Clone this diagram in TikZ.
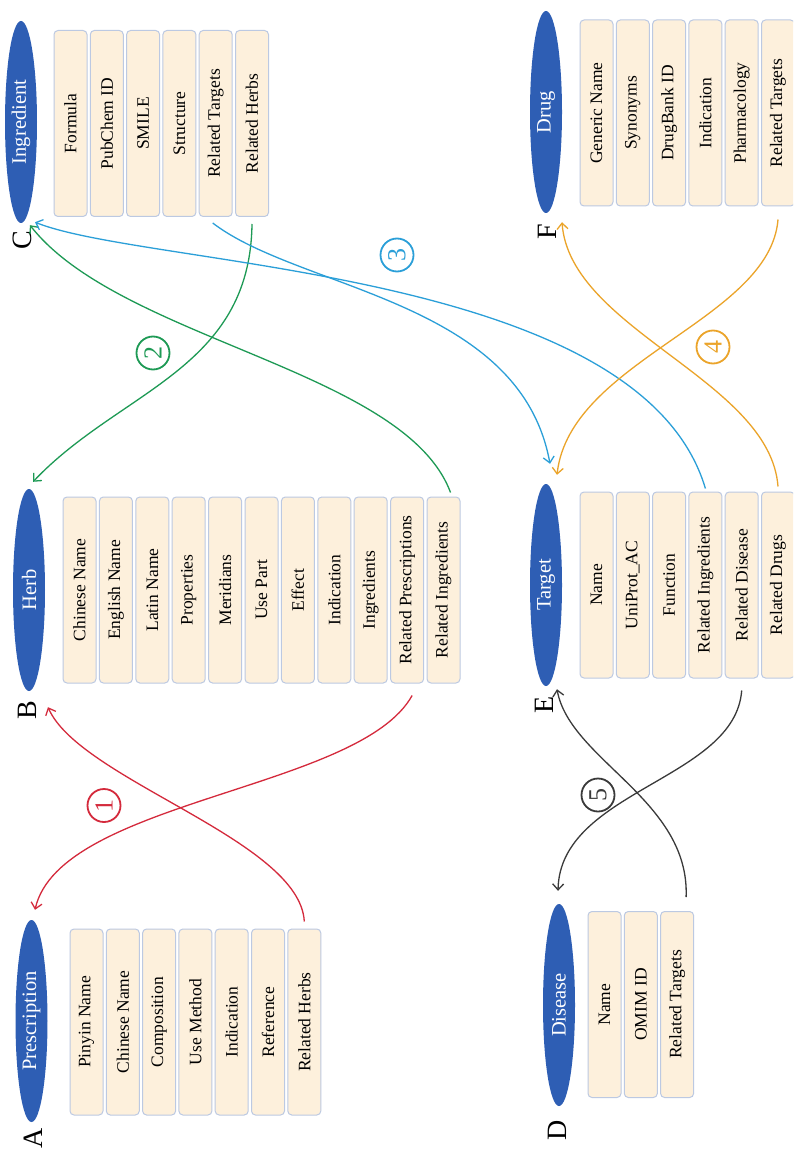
\documentclass[tikz,border=0pt]{standalone}
\usepackage{fontspec}
\setmainfont{Liberation Serif}
\usetikzlibrary{shapes.geometric,arrows.meta,calc}
\definecolor{ellblue}{HTML}{2E5EB4}
\definecolor{boxfill}{HTML}{FDF0DC}
\definecolor{boxline}{HTML}{BCC9E2}
\definecolor{cred}{HTML}{D42A3C}
\definecolor{cgreen}{HTML}{1E9A55}
\definecolor{cblue}{HTML}{2B9FD8}
\definecolor{corange}{HTML}{EBA42A}
\definecolor{cblack}{HTML}{3A3A3A}
\begin{document}
\begin{tikzpicture}[x=1pt,y=-1pt,
  field/.style={draw=boxline, fill=boxfill, rounded corners=4pt, line width=1pt,
    minimum width=33pt, minimum height=186pt, inner sep=0pt, text=black,
    font=\fontsize{17.5}{17.5}\selectfont},
  entity/.style={ellipse, fill=ellblue, minimum width=32pt, minimum height=202pt,
    inner sep=0pt, text=white, font=\fontsize{20.5}{20.5}\selectfont},
  letter/.style={inner sep=0pt, font=\fontsize{28}{28}\selectfont},
  conn/.style={line width=1.3pt, -{Straight Barb[length=6pt,width=11pt]}},
  num/.style={circle, line width=1.8pt, minimum size=33pt, inner sep=0pt,
    font=\fontsize{26}{26}\selectfont}
]
\clip (0,0) rectangle (793,1150);
\fill[white] (0,0) rectangle (793,1150);

% A Prescription
\node[entity] (pe) at (31.5,1021) {\rotatebox{90}{Prescription}};
\node[letter] (la) at (33,1138) {\rotatebox{90}{A}};
\foreach \t [count=\i] in {Pinyin Name,Chinese Name,Composition,Use Method,Indication,Reference,Related Herbs}
  \node[field] (pa\i) at ({86.5+(\i-1)*36.3},1022) {\rotatebox{90}{\t}};

% B Herb
\node[entity] (he) at (29,590) {\rotatebox{90}{Herb}};
\node[letter] (lb) at (27,710) {\rotatebox{90}{B}};
\foreach \t [count=\i] in {Chinese Name,English Name,Latin Name,Properties,Meridians,Use Part,Effect,Indication,Ingredients,Related Prescriptions,Related Ingredients}
  \node[field] (hb\i) at ({79.5+(\i-1)*36.4},590) {\rotatebox{90}{\t}};

% C Ingredient
\node[entity] (ie) at (21,122) {\rotatebox{90}{Ingredient}};
\node[letter] (lc) at (22,240) {\rotatebox{90}{C}};
\foreach \t [count=\i] in {Formula,PubChem ID,SMILE,Structure,Related Targets,Related Herbs}
  \node[field] (ib\i) at ({70.5+(\i-1)*36.3},123.5) {\rotatebox{90}{\t}};

% D Disease
\node[entity] (de) at (559,1005) {\rotatebox{90}{Disease}};
\node[letter] (ld) at (557,1130) {\rotatebox{90}{D}};
\foreach \t [count=\i] in {Name,OMIM ID,Related Targets}
  \node[field] (db\i) at ({604.5+(\i-1)*36.3},1004.5) {\rotatebox{90}{\t}};

% E Target
\node[entity] (te) at (546,585) {\rotatebox{90}{Target}};
\node[letter] (le) at (544,705) {\rotatebox{90}{E}};
\foreach \t [count=\i] in {Name,UniProt\_AC,Function,Related Ingredients,Related Disease,Related Drugs}
  \node[field] (eb\i) at ({596.5+(\i-1)*36.3},585) {\rotatebox{90}{\t}};

% F Drug
\node[entity] (fe) at (546,112) {\rotatebox{90}{Drug}};
\node[letter] (lf) at (547,232) {\rotatebox{90}{F}};
\foreach \t [count=\i] in {Generic Name,Synonyms,DrugBank ID,Indication,Pharmacology,Related Targets}
  \node[field] (fb\i) at ({596.5+(\i-1)*36.3},113) {\rotatebox{90}{\t}};

% 1 red
\draw[conn, cred] ([yshift=7pt]pa7.north) .. controls (300,840) and (80,780) .. ([xshift=19pt,yshift=-16pt]he.south);
\draw[conn, cred] ([xshift=5pt,yshift=-12pt]hb10.south) .. controls (360,790) and (60,800) .. ([xshift=3.5pt,yshift=10pt]pe.north);
\node[num, draw=cred, text=cred] (n1) at (104,805.5) {\rotatebox{90}{1}};

% 2 green
\draw[conn, cgreen] ([yshift=-7pt]ib6.south) .. controls (250,370) and (120,390) .. ([xshift=4pt,yshift=7pt]he.north);
\draw[conn, cgreen] ([xshift=7pt,yshift=4pt]hb11.north) .. controls (405,370) and (120,340) .. ([xshift=9pt,yshift=-2pt]ie.south);
\node[num, draw=cgreen, text=cgreen] (n2) at (153,353) {\rotatebox{90}{2}};

% 3 blue
\draw[conn, cblue] ([xshift=-3pt,yshift=-6pt]ib5.south) .. controls (300,290) and (520,300) .. ([xshift=4pt,yshift=20pt]te.north);
\draw[conn, cblue] ([yshift=3pt]eb4.north) .. controls (640,268) and (150,268) .. ([xshift=14pt,yshift=1pt]ie.south);
\node[num, draw=cblue, text=cblue] (n3) at (397,255) {\rotatebox{90}{3}};

% 4 orange
\draw[conn, corange] ([yshift=5pt]eb6.north) .. controls (770,380) and (570,330) .. ([xshift=16pt,yshift=-9pt]fe.south);
\draw[conn, corange] ([yshift=-13pt]fb6.south) .. controls (770,320) and (570,360) .. ([xshift=11pt,yshift=9pt]te.north);
\node[num, draw=corange, text=corange] (n4) at (713,347) {\rotatebox{90}{4}};

% 5 black
\draw[conn, cblack] ([yshift=-12pt]eb5.south) .. controls (735,780) and (560,790) .. ([xshift=-1pt,yshift=13pt]de.north);
\draw[conn, cblack] ([xshift=9pt,yshift=14pt]db3.north) .. controls (690,800) and (570,760) .. ([xshift=11pt,yshift=-3pt]te.south);
\node[num, draw=cblack, text=cblack] (n5) at (598,795) {\rotatebox{90}{5}};
\end{tikzpicture}
\end{document}
